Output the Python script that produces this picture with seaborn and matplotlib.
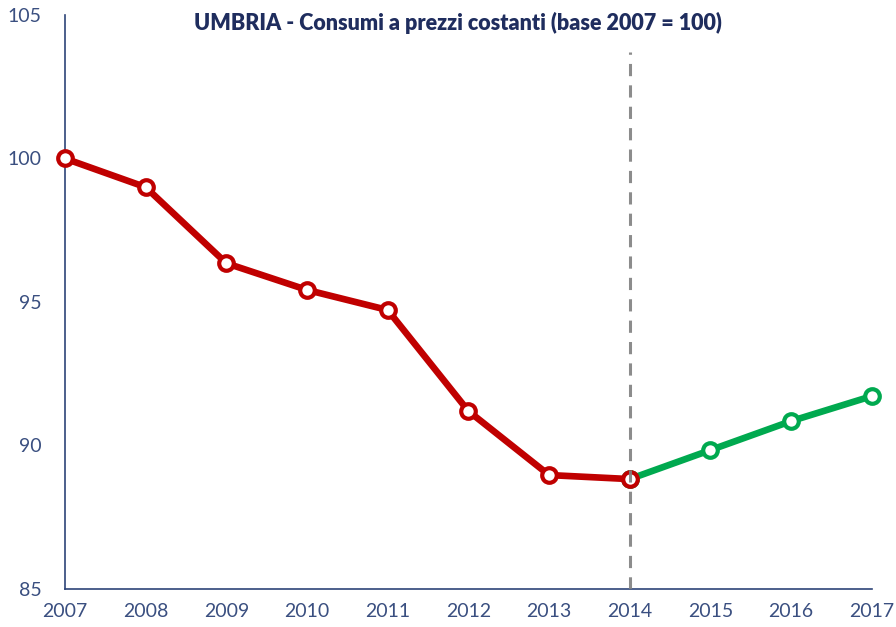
import matplotlib
matplotlib.use("Agg")
import matplotlib.pyplot as plt
import seaborn as sns
import pandas as pd

sns.set_style("white")
plt.rcParams['font.family'] = ['Lato', 'DejaVu Sans']

years_hist = [2007, 2008, 2009, 2010, 2011, 2012, 2013, 2014]
cons_hist = [100.0, 99.0, 96.35, 95.42, 94.72, 91.2, 88.97, 88.83]
years_fc = [2014, 2015, 2016, 2017]
cons_fc = [88.83, 89.84, 90.85, 91.72]

navy = "#2E4478"
red = "#C00000"
green = "#00A94F"

fig = plt.figure(figsize=(8.96, 6.27), dpi=100)
ax = fig.add_axes([0.0725, 0.0606, 0.9005, 0.9155])

hist = pd.DataFrame({"anno": years_hist, "valore": cons_hist})
fc = pd.DataFrame({"anno": years_fc, "valore": cons_fc})

sns.lineplot(data=fc, x="anno", y="valore", ax=ax, color=green, linewidth=4.8,
             marker="o", markersize=10.5, markerfacecolor="white", markeredgecolor=green,
             markeredgewidth=3, zorder=2)
sns.lineplot(data=hist, x="anno", y="valore", ax=ax, color=red, linewidth=4.8,
             marker="o", markersize=10.5, markerfacecolor="white", markeredgecolor=red,
             markeredgewidth=3, zorder=3)
ax.vlines(2014, 85, 103.7, colors="#808080", linestyles=(0, (4, 3)), linewidth=2.2, zorder=4, alpha=0.9)

ax.set_xlim(2007, 2017)
ax.set_ylim(85, 105)
ax.set_xticks(range(2007, 2018))
ax.set_yticks([85, 90, 95, 100, 105])
ax.set_xlabel("")
ax.set_ylabel("")
for s in ["top", "right"]:
    ax.spines[s].set_visible(False)
for s in ["left", "bottom"]:
    ax.spines[s].set_color(navy)
    ax.spines[s].set_linewidth(1.2)
ax.tick_params(axis="both", colors=navy, labelsize=14, length=7, width=1.2, direction="out")
ax.tick_params(axis="y", pad=10)
ax.tick_params(axis="x", pad=3)
for lab in ax.get_xticklabels() + ax.get_yticklabels():
    lab.set_color("#3A4F80")
for line in ax.lines:
    line.set_clip_on(False)

fig.text(0.511, 0.963, "UMBRIA - Consumi a prezzi costanti (base 2007 = 100)",
         ha="center", va="center", fontsize=15.5, fontweight="heavy", color="#1F2D5E")

fig.savefig("out.png", dpi=100)
